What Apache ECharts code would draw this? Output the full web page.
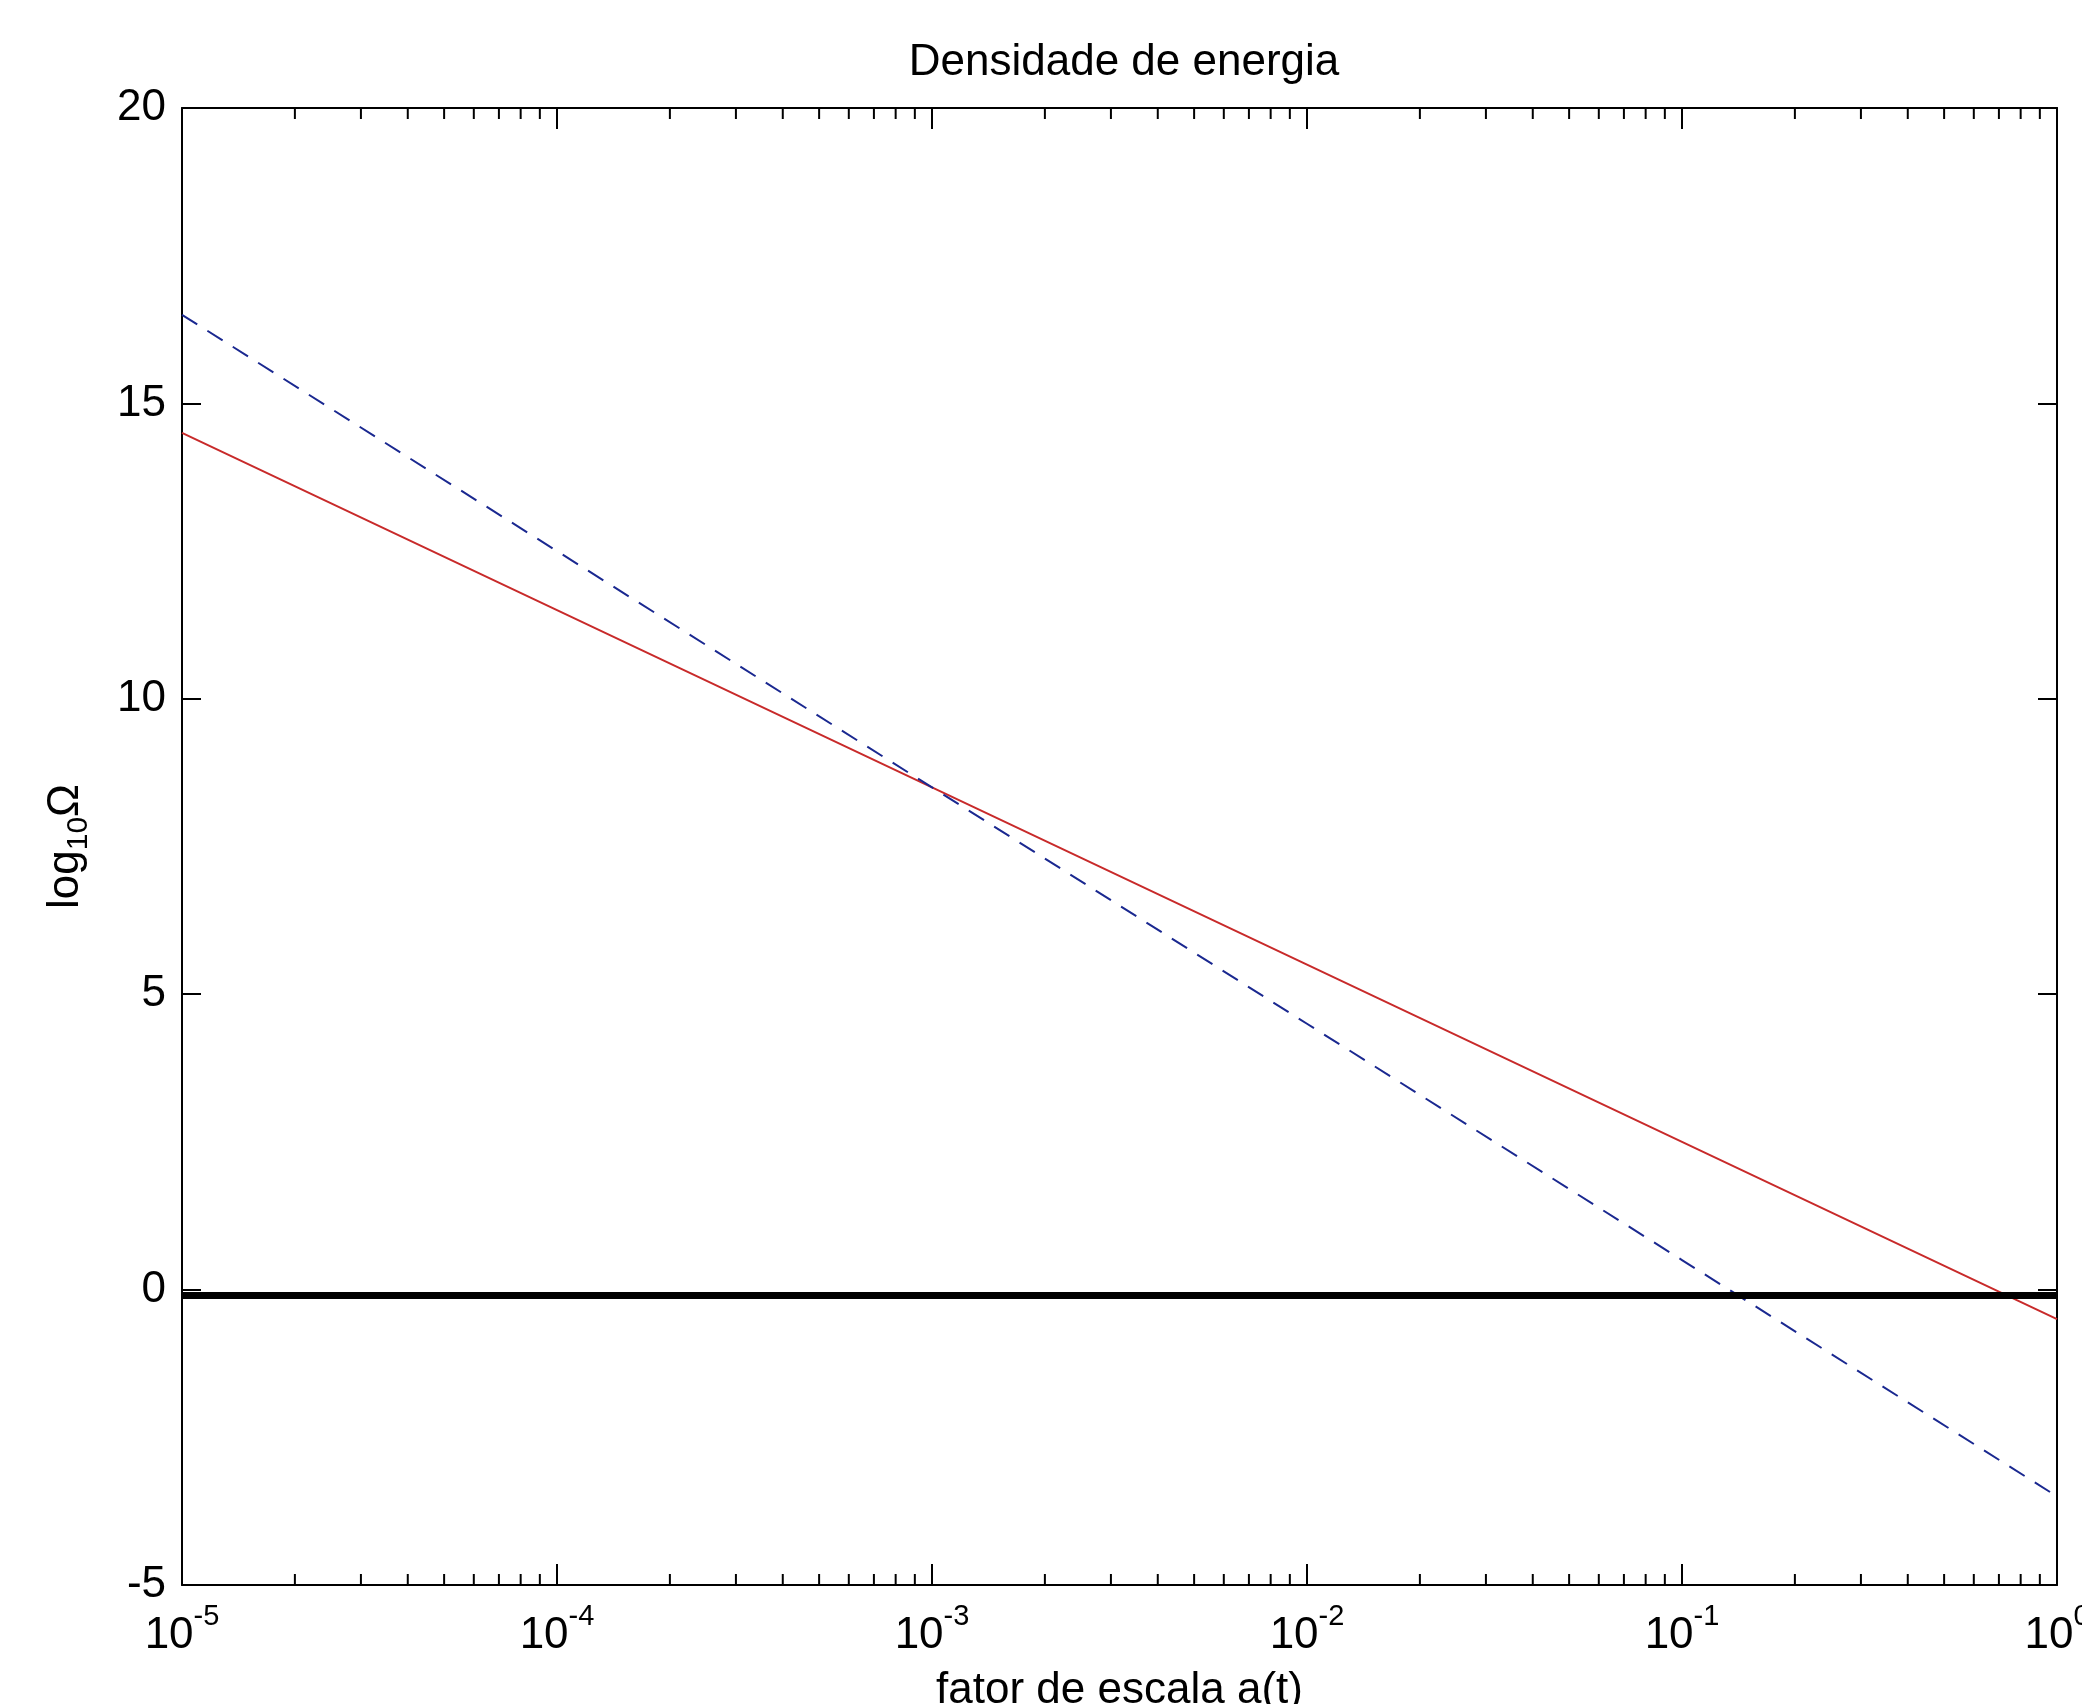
<!DOCTYPE html>
<html>
<head>
<meta charset="utf-8">
<script src="https://cdn.jsdelivr.net/npm/echarts@6/dist/echarts.min.js"></script>
<style>
  html, body { margin: 0; padding: 0; background: #fff; }
  #main { width: 2082px; height: 1704px; }
</style>
</head>
<body>
<div id="main"></div>
<script>
// scale factor a(t) at each decade, and log10 of the densities
var scaleFactor = [1e-5, 1e-4, 1e-3, 1e-2, 1e-1, 1];
var omegaRed = [14.5, 11.5, 8.5, 5.5, 2.5, -0.5];
var omegaBlue = [16.5, 12.5, 8.5, 4.5, 0.5, -3.5];
var flatX = [1e-5, 1];
var flatY = [-0.1, -0.1];

// minor tick marks of the log axis (2..9 in each decade)
var decades = [-5, -4, -3, -2, -1];
var mantissas = [2, 3, 4, 5, 6, 7, 8, 9];
var minorTicks = [];
decades.forEach(function (e) {
  mantissas.forEach(function (m) {
    minorTicks.push([m * Math.pow(10, e), 0]);
  });
});

var yMin = -5, yMax = 20;
var font = 'Liberation Sans, Arial, sans-serif';

function zip(xs, ys) {
  return xs.map(function (x, i) { return [x, ys[i]]; });
}

var chart = echarts.init(document.getElementById('main'), null, { renderer: 'canvas' });

var xCommon = {
  type: 'log',
  logBase: 10,
  min: 1e-5,
  max: 1,
  splitNumber: 5,
  splitLine: { show: false },
  axisLine: { show: true, onZero: false, lineStyle: { color: '#000', width: 2 } },
  axisTick: { show: true, inside: true, length: 21, lineStyle: { color: '#000', width: 2 } }
};

var yCommon = {
  type: 'value',
  min: yMin,
  max: yMax,
  interval: 5,
  splitLine: { show: false },
  axisLine: { show: true, onZero: false, lineStyle: { color: '#000', width: 2 } },
  axisTick: { show: true, inside: true, length: 19, lineStyle: { color: '#000', width: 2 } }
};

var option = {
  animation: false,
  backgroundColor: '#fff',
  title: {
    text: 'Densidade de energia',
    left: 1119,
    textAlign: 'center',
    top: 36,
    textStyle: { fontFamily: font, fontSize: 44, fontWeight: 'normal', color: '#000' }
  },
  grid: { left: 182, right: 25, top: 108, bottom: 119, containLabel: false, outerBoundsMode: 'none' },
  xAxis: [
    Object.assign({}, xCommon, {
      position: 'bottom',
      name: 'fator de escala a(t)',
      nameLocation: 'middle',
      nameGap: 84,
      nameTextStyle: { fontFamily: font, fontSize: 44, color: '#000' },
      axisLabel: {
        show: true,
        showMinLabel: true,
        showMaxLabel: true,
        margin: 17,
        formatter: function (v) {
          var e = Math.round(Math.log10(v));
          return '{b|10}{s|' + e + '}';
        },
        rich: {
          b: { fontFamily: font, fontSize: 44, color: '#000', lineHeight: 56, verticalAlign: 'bottom' },
          s: { fontFamily: font, fontSize: 29, color: '#000', lineHeight: 56, verticalAlign: 'top' }
        }
      }
    }),
    Object.assign({}, xCommon, {
      position: 'top',
      axisLabel: { show: false }
    })
  ],
  yAxis: [
    Object.assign({}, yCommon, {
      position: 'left',
      name: '{a|log}{sub|10}{a|Ω}',
      nameLocation: 'middle',
      nameGap: 88,
      nameRotate: 90,
      nameTextStyle: {
        rich: {
          a: { fontFamily: font, fontSize: 44, color: '#000', lineHeight: 56, verticalAlign: 'middle' },
          sub: { fontFamily: font, fontSize: 30, color: '#000', lineHeight: 56, verticalAlign: 'bottom' }
        }
      },
      axisLabel: { show: true, margin: 16, fontFamily: font, fontSize: 44, color: '#000' }
    }),
    Object.assign({}, yCommon, {
      position: 'right',
      axisLabel: { show: false }
    })
  ],
  series: [
    {
      type: 'line',
      data: zip(scaleFactor, omegaRed),
      showSymbol: false,
      symbol: 'none',
      lineStyle: { color: '#c82a2a', width: 2 },
      z: 3
    },
    {
      type: 'line',
      data: zip(scaleFactor, omegaBlue),
      showSymbol: false,
      symbol: 'none',
      lineStyle: { color: '#1a2890', width: 2, type: [18, 12] },
      z: 3
    },
    {
      type: 'line',
      data: zip(flatX, flatY),
      showSymbol: false,
      symbol: 'none',
      lineStyle: { color: '#000', width: 7 },
      z: 4
    },
    {
      type: 'custom',
      silent: true,
      clip: false,
      data: minorTicks,
      renderItem: function (params, api) {
        var v = api.value(0);
        var b = api.coord([v, yMin]);
        var t = api.coord([v, yMax]);
        return {
          type: 'group',
          children: [
            { type: 'line', shape: { x1: b[0], y1: b[1], x2: b[0], y2: b[1] - 11 }, style: { stroke: '#000', lineWidth: 2 } },
            { type: 'line', shape: { x1: t[0], y1: t[1], x2: t[0], y2: t[1] + 11 }, style: { stroke: '#000', lineWidth: 2 } }
          ]
        };
      },
      z: 5
    }
  ]
};

chart.setOption(option);
</script>
</body>
</html>
